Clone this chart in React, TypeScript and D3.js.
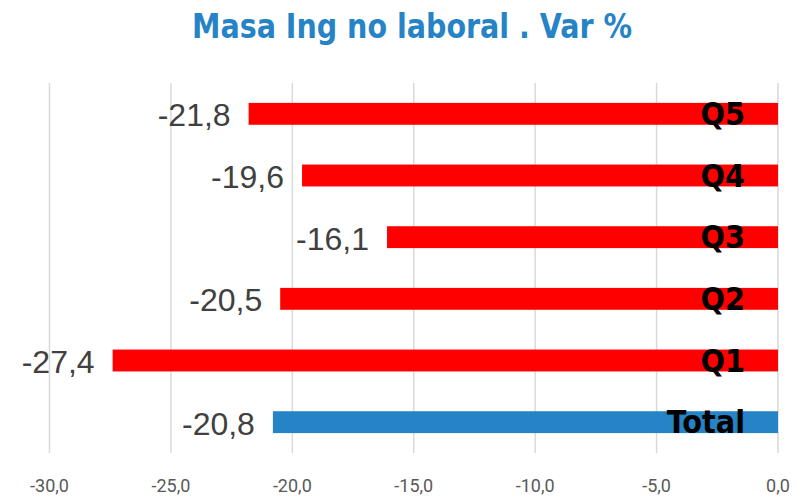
import * as d3 from 'd3';

const categories = ['Q5', 'Q4', 'Q3', 'Q2', 'Q1', 'Total'];
const values = [-21.8, -19.6, -16.1, -20.5, -27.4, -20.8];
const tickValues = [-30, -25, -20, -15, -10, -5, 0];
const title = 'Masa Ing no laboral . Var %';

const width = 797;
const height = 497;
const left = 49.5;
const right = 778;
const top = 83;
const bottom = 453;

const fmt = (v: number) => d3.format('.1f')(v).replace('.', ',').replace('−', '-');

export default function App() {
  const x = d3.scaleLinear().domain([-30, 0]).range([left, right]);
  const y = d3.scaleBand<string>().domain(categories).range([top, bottom]).paddingInner(0.645).paddingOuter(0.3225);
  const bw = y.bandwidth();

  return (
    <svg width={width} height={height} viewBox={`0 0 ${width} ${height}`}
      style={{ position: 'absolute', left: 0, top: 0, background: '#fff' }}>
      <text x={412} y={38} textAnchor="middle" fill="#2683C6" fontFamily="DejaVu Sans" fontWeight="bold"
        fontStretch="condensed" fontSize={34} textLength={440} lengthAdjust="spacingAndGlyphs">{title}</text>

      {tickValues.map(t => (
        <g key={t}>
          <line x1={x(t)} x2={x(t)} y1={top} y2={bottom} stroke="#D9D9D9" strokeWidth={1.5} />
          <text x={x(t)} y={492} textAnchor="middle" fill="#595959" fontFamily="Roboto" fontSize={18}>{fmt(t)}</text>
        </g>
      ))}

      {categories.map((c, i) => {
        const v = values[i];
        const y0 = y(c)!;
        const cy = y0 + bw / 2;
        return (
          <g key={c}>
            <rect x={x(v)} y={y0} width={x(0) - x(v)} height={bw} fill={c === 'Total' ? '#2683C6' : '#FF0000'} />
            <text x={x(v) - 18} y={cy + 12.5} textAnchor="end" fill="#404040" fontFamily="Liberation Sans" fontSize={32}>{fmt(v)}</text>
            <text x={745} y={cy + 11} textAnchor="end" fill="#000" fontFamily="DejaVu Sans" fontWeight="bold"
              fontStretch="condensed" fontSize={32}>{c}</text>
          </g>
        );
      })}
    </svg>
  );
}
